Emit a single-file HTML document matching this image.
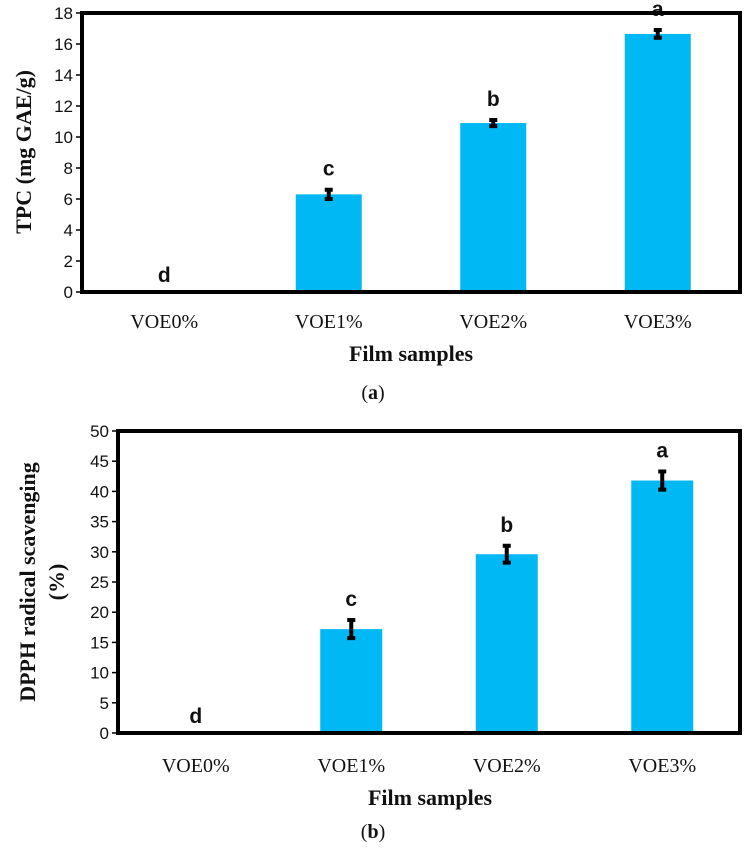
<!DOCTYPE html>
<html><head><meta charset="utf-8"><style>
body{margin:0;background:#fff;width:748px;height:848px;overflow:hidden}
svg{display:block}
.tk{font-family:"Liberation Sans",sans-serif;font-size:17px;fill:#111}
.xl{font-family:"Liberation Serif",serif;font-size:20px;fill:#111}
.tt{font-family:"Liberation Serif",serif;font-size:22px;font-weight:bold;fill:#111}
.lt{font-family:"Liberation Sans",sans-serif;font-size:21px;font-weight:bold;fill:#111}
</style></head><body>
<svg id="s" width="748" height="848">
<text class="tt" x="411" y="361" text-anchor="middle">Film samples</text>
<text class="xl" x="373" y="399" text-anchor="middle">(<tspan font-weight="bold">a</tspan>)</text>
<text class="tt" transform="translate(31,152) rotate(-90)" text-anchor="middle">TPC (mg GAE/g)</text>
<text class="tt" x="430" y="805" text-anchor="middle">Film samples</text>
<text class="xl" x="373" y="838" text-anchor="middle">(<tspan font-weight="bold">b</tspan>)</text>
<text class="tt" transform="translate(35,582) rotate(-90)" text-anchor="middle">DPPH radical scavenging</text>
<text class="tt" transform="translate(64,582) rotate(-90)" text-anchor="middle">(%)</text>
</svg>
<script>
const categories=["VOE0%","VOE1%","VOE2%","VOE3%"];
const tpcValues=[0,6.3,10.9,16.65];
const tpcErrors=[0,0.3,0.2,0.25];
const tpcLetters=["d","c","b","a"];
const tpcTicks=[0,2,4,6,8,10,12,14,16,18];
const dpphValues=[0,17.2,29.6,41.8];
const dpphErrors=[0,1.5,1.4,1.5];
const dpphLetters=["d","c","b","a"];
const dpphTicks=[0,5,10,15,20,25,30,35,40,45,50];
const NS="http://www.w3.org/2000/svg";
const svg=document.getElementById('s');
function mk(t,a){const e=document.createElementNS(NS,t);for(const k in a)e.setAttribute(k,a[k]);svg.appendChild(e);return e;}
function chart(p,vals,errs,letters,ticks,L,R,T,B,bw,xly){
  const max=ticks[ticks.length-1];
  const y=v=>B-(v/max)*(B-T);
  const step=(R-L)/categories.length;
  const x=i=>L+step*(i+0.5);
  ticks.forEach(t=>{
    const tl=mk('line',{x1:L-6,x2:L,y1:y(t),y2:y(t),stroke:'#000','stroke-width':1.5});
    
    
    const tx=mk('text',{class:'tk',x:L-9,y:y(t)+6,'text-anchor':'end'});
    tx.textContent=t;
    
    
  });
  categories.forEach((c,i)=>{
    const r=mk('rect',{x:x(i)-bw/2,y:y(vals[i]),width:bw,height:B-y(vals[i]),fill:'#00b8f4'});
    
    
    if(errs[i]>0){
      const e=mk('path',{d:`M${x(i)} ${y(vals[i]+errs[i])}V${y(vals[i]-errs[i])}M${x(i)-4} ${y(vals[i]+errs[i])}h8M${x(i)-4} ${y(vals[i]-errs[i])}h8`,stroke:'#000','stroke-width':4,fill:'none'});
      
      
    }
    const lt=mk('text',{class:'lt',x:x(i),y:(vals[i]>0?y(vals[i]+errs[i])-14:B-10),'text-anchor':'middle'});
    lt.textContent=letters[i];
    
    
    const xt=mk('text',{class:'xl',x:x(i),y:xly,'text-anchor':'middle'});
    xt.textContent=c;
    
    
  });
  const f=mk('rect',{x:L,y:T,width:R-L,height:B-T,fill:'none',stroke:'#000','stroke-width':4});
  
  
}
chart('tpc',tpcValues,tpcErrors,tpcLetters,tpcTicks,82,740,13,292,66,328);
chart('dpph',dpphValues,dpphErrors,dpphLetters,dpphTicks,118,740,431,733,62,772);
</script>
</body></html>
